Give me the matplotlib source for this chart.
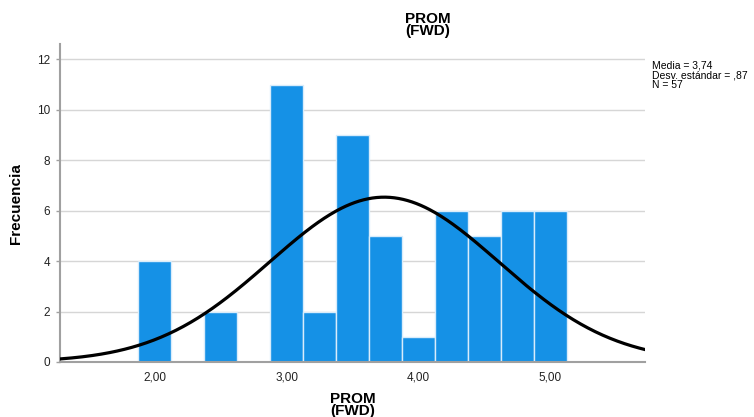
import numpy as np
import matplotlib

matplotlib.use("Agg")
import matplotlib.pyplot as plt

plt.rcParams["font.family"] = ["Liberation Sans", "DejaVu Sans"]

# histogram bins (centres) and counts
bin_centers = [2.00, 2.25, 2.50, 2.75, 3.00, 3.25, 3.50, 3.75, 4.00, 4.25, 4.50, 4.75, 5.00]
counts = [4, 0, 2, 0, 11, 2, 9, 5, 1, 6, 5, 6, 6]
bin_width = 0.25
mean, sd, n = 3.74, 0.87, 57
xticks = [2.0, 3.0, 4.0, 5.0]
xticklabels = ["2,00", "3,00", "4,00", "5,00"]
yticks = [0, 2, 4, 6, 8, 10, 12]

fig = plt.figure(figsize=(7.54, 4.17), dpi=100)
ax = fig.add_axes([0.0796, 0.132, 0.776, 0.762])

ax.bar(bin_centers, counts, width=bin_width, color="#1591e6",
       edgecolor="#d8ecfb", linewidth=1.0, zorder=2)

xmin, xmax = 1.28, 5.72
xs = np.linspace(xmin, xmax, 400)
ys = n * bin_width / (sd * np.sqrt(2 * np.pi)) * np.exp(-0.5 * ((xs - mean) / sd) ** 2)
ax.plot(xs, ys, color="black", linewidth=2.3, zorder=3)

ax.set_xlim(xmin, xmax)
ax.set_ylim(0, 12.6)
ax.set_xticks(xticks)
ax.set_xticklabels(xticklabels)
ax.set_yticks(yticks)
ax.tick_params(axis="both", labelsize=8.5, colors="#222222", length=3, width=1)
ax.tick_params(axis="x", length=0, pad=7)
ax.tick_params(axis="y", color="#a0a0a0", pad=4)
ax.grid(axis="y", color="#d6d6d6", linewidth=1.0, zorder=0)
ax.set_axisbelow(True)

for s in ("top", "right"):
    ax.spines[s].set_visible(False)
for s in ("left", "bottom"):
    ax.spines[s].set_color("#a0a0a0")
    ax.spines[s].set_linewidth(1.5)

ax.set_ylabel("Frecuencia", fontsize=11, fontweight="bold", labelpad=10)
ax.set_xlabel("PROM\n(FWD)", fontsize=11, fontweight="bold", labelpad=6,
              linespacing=0.85)
fig.text(428 / 754, 1 - 12 / 417, "PROM\n(FWD)", ha="center", va="top",
         fontsize=11, fontweight="bold", linespacing=0.85)

mean_txt = f"{mean:.2f}".replace(".", ",")
sd_txt = f"{sd:.2f}".replace("0.", ",").replace(".", ",")
fig.text(652 / 754, 1 - 61 / 417,
         f"Media = {mean_txt}\nDesv. estándar = {sd_txt}\nN = {n}",
         ha="left", va="top", fontsize=7.5, linespacing=0.95)

fig.savefig("out.png", dpi=100)
